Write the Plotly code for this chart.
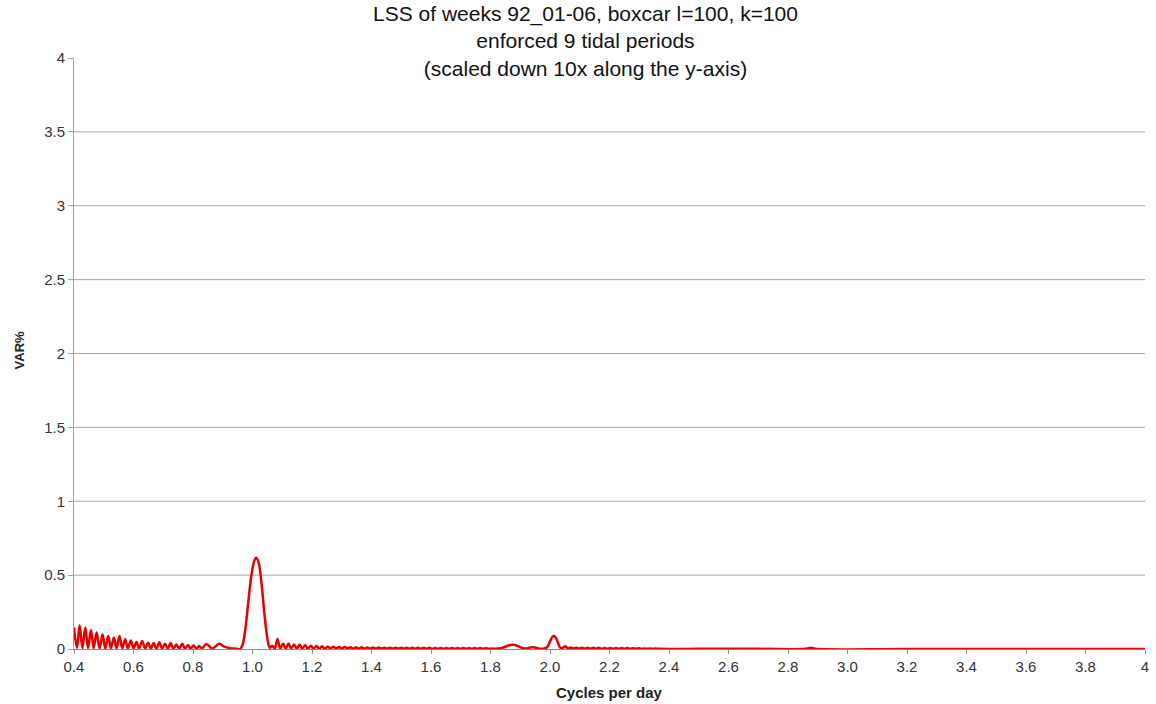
import plotly.graph_objects as go

# ---- data ----
freq_cpd = [
    0.400, 0.410, 0.419, 0.428, 0.438, 0.447, 0.457, 0.466, 0.476, 0.486,
    0.496, 0.505, 0.515, 0.524, 0.534, 0.543, 0.553, 0.562, 0.572, 0.581,
    0.591, 0.600, 0.610, 0.619, 0.629, 0.639, 0.649, 0.658, 0.668, 0.677,
    0.687, 0.696, 0.706, 0.715, 0.725, 0.734, 0.744, 0.754, 0.764, 0.773,
    0.783, 0.792, 0.802, 0.811, 0.821, 0.830, 0.845, 0.865, 0.888, 0.905,
    0.925, 0.945, 0.958,
    0.966, 0.975, 0.985, 0.995, 1.005, 1.012, 1.020, 1.030, 1.040, 1.050,
    1.058, 1.066, 1.075, 1.084, 1.093, 1.103, 1.112, 1.121, 1.130, 1.140,
    1.149, 1.158, 1.167, 1.177, 1.186, 1.196, 1.205, 1.215, 1.224, 1.234,
    1.243, 1.253, 1.262, 1.272, 1.281, 1.291, 1.300, 1.310, 1.319, 1.329,
    1.338, 1.348, 1.357, 1.367, 1.376, 1.386, 1.395, 1.405, 1.414, 1.424,
    1.433, 1.443, 1.452, 1.462, 1.471, 1.481, 1.490, 1.500, 1.509, 1.519,
    1.528, 1.538, 1.547, 1.557, 1.566, 1.576, 1.585, 1.595, 1.604, 1.614,
    1.623, 1.633, 1.642, 1.652, 1.661, 1.671, 1.680, 1.690, 1.699, 1.709,
    1.718, 1.728, 1.737, 1.747, 1.756, 1.766, 1.775, 1.785, 1.794, 1.804,
    1.813, 1.822,
    1.832, 1.845, 1.860, 1.875, 1.890, 1.905, 1.920, 1.933, 1.945, 1.958,
    1.975, 1.990, 2.000, 2.008, 2.014, 2.020, 2.028, 2.036, 2.044, 2.052,
    2.060, 2.070, 2.079, 2.089, 2.098, 2.108, 2.117, 2.127, 2.136, 2.146,
    2.155, 2.165, 2.174, 2.184, 2.193, 2.203, 2.212, 2.222, 2.231, 2.241,
    2.250, 2.260, 2.269, 2.279, 2.288, 2.298, 2.307, 2.317, 2.326, 2.336,
    2.345, 2.355, 2.365,
    2.500, 2.700, 2.860, 2.877, 2.892, 3.200, 3.600, 4.000,
]

var_pct = [
    0.145, 0.008, 0.160, 0.008, 0.145, 0.006, 0.128, 0.006, 0.112, 0.005,
    0.098, 0.005, 0.088, 0.005, 0.078, 0.005, 0.088, 0.005, 0.066, 0.004,
    0.058, 0.004, 0.048, 0.004, 0.054, 0.004, 0.043, 0.004, 0.040, 0.004,
    0.046, 0.004, 0.036, 0.004, 0.040, 0.003, 0.030, 0.003, 0.036, 0.003,
    0.026, 0.003, 0.024, 0.003, 0.020, 0.004, 0.034, 0.004, 0.036, 0.016,
    0.006, 0.002, 0.000,
    0.025, 0.120, 0.300, 0.480, 0.590, 0.617, 0.590, 0.450, 0.240, 0.070,
    0.008, 0.022, 0.004, 0.068, 0.005, 0.035, 0.004, 0.038, 0.004, 0.030,
    0.004, 0.028, 0.004, 0.025, 0.003, 0.022, 0.003, 0.020, 0.003, 0.018,
    0.003, 0.016, 0.003, 0.015, 0.003, 0.014, 0.003, 0.013, 0.003, 0.012,
    0.002, 0.011, 0.002, 0.011, 0.002, 0.010, 0.002, 0.010, 0.002, 0.010,
    0.002, 0.009, 0.002, 0.009, 0.002, 0.009, 0.002, 0.009, 0.002, 0.008,
    0.002, 0.008, 0.002, 0.008, 0.002, 0.008, 0.002, 0.008, 0.002, 0.007,
    0.002, 0.007, 0.002, 0.007, 0.002, 0.007, 0.002, 0.007, 0.002, 0.007,
    0.002, 0.006, 0.002, 0.006, 0.002, 0.006, 0.002, 0.005, 0.001, 0.004,
    0.001, 0.004,
    0.003, 0.012, 0.024, 0.029, 0.022, 0.008, 0.003, 0.010, 0.012, 0.006,
    0.001, 0.012, 0.050, 0.082, 0.088, 0.075, 0.035, 0.006, 0.010, 0.018,
    0.004, 0.010, 0.002, 0.009, 0.002, 0.009, 0.002, 0.008, 0.002, 0.008,
    0.002, 0.008, 0.002, 0.007, 0.002, 0.007, 0.002, 0.007, 0.002, 0.006,
    0.001, 0.006, 0.001, 0.005, 0.001, 0.005, 0.001, 0.004, 0.001, 0.004,
    0.001, 0.003, 0.001,
    0.001, 0.001, 0.001, 0.008, 0.001, 0.000, 0.000, 0.000,
]

x_tick_vals = [0.4, 0.6, 0.8, 1.0, 1.2, 1.4, 1.6, 1.8, 2.0, 2.2, 2.4, 2.6, 2.8,
               3.0, 3.2, 3.4, 3.6, 3.8, 4.0]
x_tick_text = ["0.4", "0.6", "0.8", "1.0", "1.2", "1.4", "1.6", "1.8", "2.0",
               "2.2", "2.4", "2.6", "2.8", "3.0", "3.2", "3.4", "3.6", "3.8", "4"]
y_tick_vals = [0, 0.5, 1, 1.5, 2, 2.5, 3, 3.5, 4]
y_tick_text = ["0", "0.5", "1", "1.5", "2", "2.5", "3", "3.5", "4"]
grid_vals = [0.5, 1, 1.5, 2, 2.5, 3, 3.5]

title_lines = ["LSS of weeks 92_01-06, boxcar l=100, k=100",
               "enforced 9 tidal periods",
               "(scaled down 10x along the y-axis)"]
x_title = "Cycles per day"
y_title = "VAR%"

FONT = "Liberation Sans, Arial, sans-serif"

fig = go.Figure()
fig.add_trace(go.Scatter(
    x=freq_cpd, y=var_pct, mode="lines",
    line=dict(color="#e80000", width=2.5, shape="spline", smoothing=1.0),
    showlegend=False, hoverinfo="x+y",
))

shapes = [dict(type="line", xref="paper", yref="y", x0=0, x1=1, y0=g, y1=g,
               line=dict(color="#a8a8a8", width=1), layer="below")
          for g in grid_vals]

annotations = [
    dict(text="<br>".join(title_lines), xref="paper", yref="paper",
         x=0.478, y=1.098, xanchor="center", yanchor="top",
         showarrow=False, align="center",
         font=dict(family=FONT, size=21, color="#111111")),
    dict(text="<b>" + x_title + "</b>", xref="paper", yref="paper",
         x=0.5, y=-0.073, xanchor="center", yanchor="middle",
         showarrow=False, font=dict(family=FONT, size=15, color="#222222")),
    dict(text="<b>" + y_title + "</b>", xref="paper", yref="paper",
         x=-0.05, y=0.506, xanchor="center", yanchor="middle", textangle=-90,
         showarrow=False, font=dict(family=FONT, size=13, color="#222222")),
]

fig.update_layout(
    width=1156, height=704,
    margin=dict(l=74, r=11, t=58, b=55, autoexpand=False),
    paper_bgcolor="white", plot_bgcolor="white",
    font=dict(family=FONT, color="#222222", size=15),
    shapes=shapes,
    annotations=annotations,
    xaxis=dict(range=[0.4, 4.0], tickmode="array", tickvals=x_tick_vals,
               ticktext=x_tick_text, showgrid=False, zeroline=False,
               showline=True, linecolor="#8c8c8c", linewidth=1,
               ticks="outside", ticklen=4, tickcolor="#8c8c8c",
               tickfont=dict(size=15, color="#333333"), automargin=False),
    yaxis=dict(range=[0, 4], tickmode="array", tickvals=y_tick_vals,
               ticktext=y_tick_text, showgrid=False, zeroline=False,
               showline=True, linecolor="#a0a0a0", linewidth=1,
               ticks="outside", ticklen=5, tickcolor="#a0a0a0",
               tickfont=dict(size=15, color="#333333"), automargin=False),
)

fig.write_html("out.html")
